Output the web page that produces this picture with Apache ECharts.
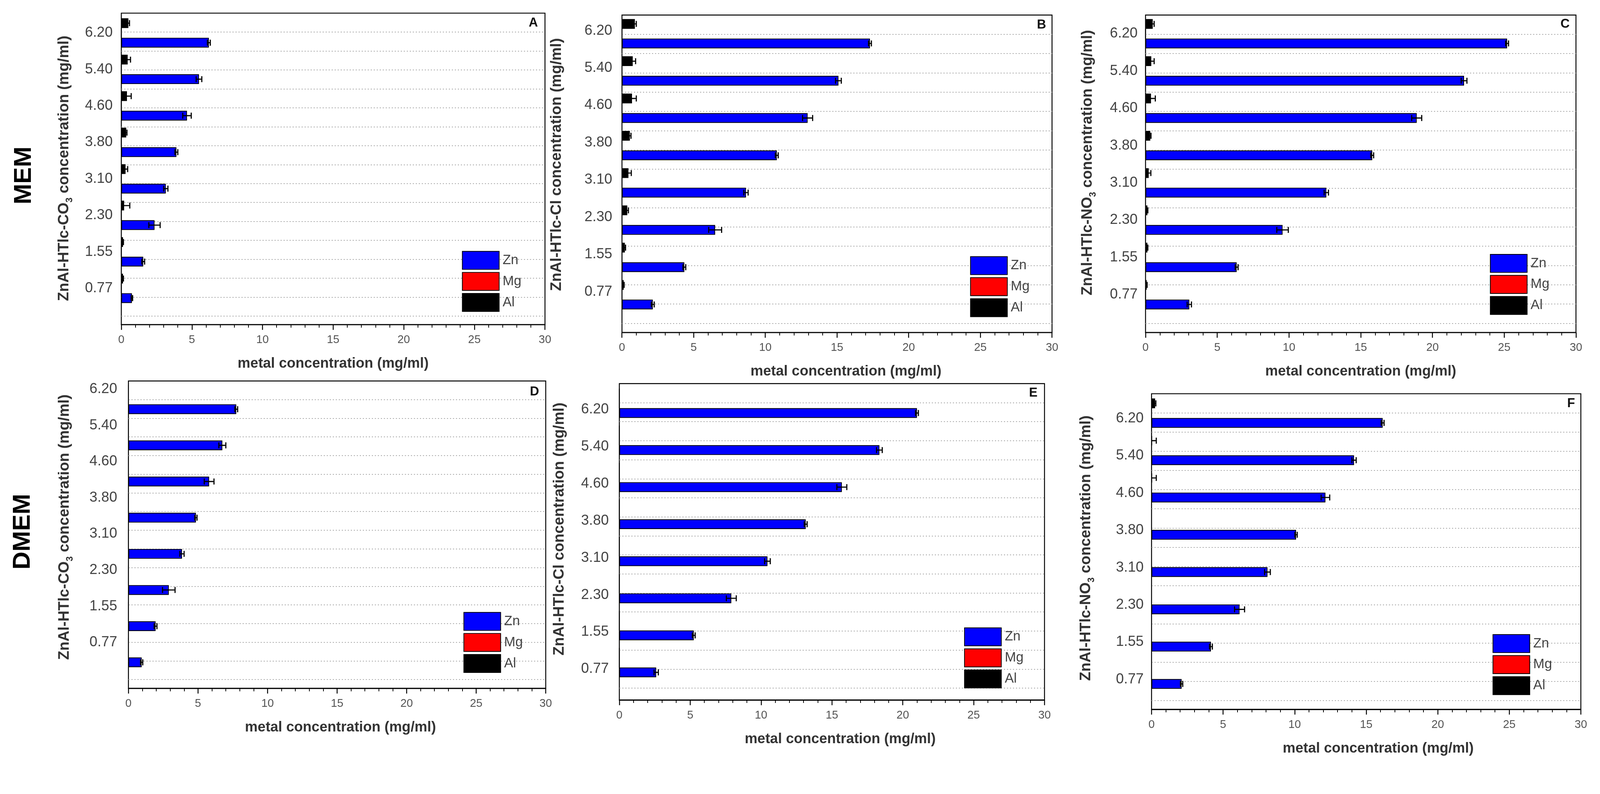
<!DOCTYPE html>
<html><head><meta charset="utf-8">
<script src="https://cdn.jsdelivr.net/npm/echarts@6/dist/echarts.min.js"></script>
<style>html,body{margin:0;padding:0;background:#fff;overflow:hidden}#c{position:absolute;left:0;top:0}</style>
</head><body><div id="c"></div>
<script>
// ---------- data ----------
const categories = ['0.77', '1.55', '2.30', '3.10', '3.80', '4.60', '5.40', '6.20'];
const legendNames = ['Zn', 'Mg', 'Al'];
const xMax = 30, xStep = 5;
const xTitle = 'metal concentration (mg/ml)';
const rowLabels = ['MEM', 'DMEM'];

// A: MEM, ZnAl-HTlc-CO3
const znA = [0.75, 1.55, 2.35, 3.15, 3.9, 4.65, 5.5, 6.2];
const znErrA = [0.05, 0.1, 0.4, 0.15, 0.1, 0.3, 0.2, 0.1];
const mgA = [0, 0, 0, 0, 0, 0, 0, 0];
const alA = [0.12, 0.12, 0.2, 0.3, 0.35, 0.4, 0.45, 0.5];
const alErrA = [0.03, 0.03, 0.4, 0.15, 0.05, 0.3, 0.2, 0.08];
// B: MEM, ZnAl-HTlc-Cl
const znB = [2.15, 4.35, 6.5, 8.65, 10.8, 12.95, 15.1, 17.3];
const znErrB = [0.1, 0.1, 0.45, 0.15, 0.1, 0.35, 0.2, 0.1];
const mgB = [0, 0, 0, 0, 0, 0, 0, 0];
const alB = [0.12, 0.2, 0.37, 0.45, 0.55, 0.7, 0.75, 0.9];
const alErrB = [0.03, 0.05, 0.08, 0.2, 0.08, 0.3, 0.2, 0.1];
// C: MEM, ZnAl-HTlc-NO3
const znC = [3.05, 6.35, 9.55, 12.6, 15.8, 18.9, 22.2, 25.2];
const znErrC = [0.15, 0.1, 0.4, 0.15, 0.1, 0.35, 0.2, 0.1];
const mgC = [0, 0, 0, 0, 0, 0, 0, 0];
const alC = [0.08, 0.13, 0.13, 0.22, 0.33, 0.38, 0.4, 0.5];
const alErrC = [0.03, 0.03, 0.03, 0.15, 0.05, 0.3, 0.2, 0.1];
// D: DMEM, ZnAl-HTlc-CO3
const znD = [0.95, 1.95, 2.9, 3.85, 4.85, 5.8, 6.75, 7.75];
const znErrD = [0.08, 0.1, 0.45, 0.15, 0.08, 0.35, 0.25, 0.1];
const mgD = [0, 0, 0, 0, 0, 0, 0, 0];
const alD = [0, 0, 0, 0, 0, 0, 0, 0];
const alErrD = [0, 0, 0, 0, 0, 0, 0, 0];
// E: DMEM, ZnAl-HTlc-Cl
const znE = [2.6, 5.25, 7.9, 10.45, 13.15, 15.7, 18.35, 21.0];
const znErrE = [0.15, 0.1, 0.35, 0.2, 0.1, 0.35, 0.2, 0.1];
const mgE = [0, 0, 0, 0, 0, 0, 0, 0];
const alE = [0, 0, 0, 0, 0, 0, 0, 0];
const alErrE = [0, 0, 0, 0, 0, 0, 0, 0];
// F: DMEM, ZnAl-HTlc-NO3
const znF = [2.1, 4.15, 6.15, 8.1, 10.1, 12.15, 14.15, 16.15];
const znErrF = [0.08, 0.1, 0.35, 0.2, 0.08, 0.3, 0.15, 0.1];
const mgF = [0, 0, 0, 0, 0, 0, 0, 0];
const alF = [0, 0, 0, 0, 0, 0.03, 0.03, 0.25];
const alErrF = [0, 0, 0, 0, 0, 0.3, 0.3, 0.05];

const yTitles = {
  A: ['ZnAl-HTlc-CO', '3'], B: ['ZnAl-HTlc-Cl', ''], C: ['ZnAl-HTlc-NO', '3'],
  D: ['ZnAl-HTlc-CO', '3'], E: ['ZnAl-HTlc-Cl', ''], F: ['ZnAl-HTlc-NO', '3']
};

// ---------- layout (positions / styles only, designed for 4260x2032, scaled to viewport) ----------
const W0 = 4260, H0 = 2032;
const vw = window.innerWidth || W0, vh = window.innerHeight || H0;
const S = Math.min(vw / W0, vh / H0);
const P = v => v * S;
const SANS = "'Liberation Sans', Arial, sans-serif";
const BAR_W = 26;
const layout = {
  A: {frame: [323, 35, 1451, 864], lineMax: 16.45, band: [39, 816], lm: 23, shift: 4, legend: [1230, 668], letter: [1420, 61], yt: [171, 448], xDx: 0},
  B: {frame: [1656, 40, 2801, 885], lineMax: 16.48, band: [40, 834], lm: 26, shift: -8, legend: [2583, 682], letter: [2773, 67], yt: [1482, 438], xDx: 24},
  C: {frame: [3050, 40, 4196, 885], lineMax: 16.48, band: [40, 834], lm: 21, shift: -3, legend: [3967, 676], letter: [4167, 64], yt: [2896, 433], xDx: 0},
  D: {frame: [342, 1014, 1453, 1832], lineMax: 16.47, band: [1015, 1785], lm: 30, shift: -27, legend: [1234, 1629], letter: [1423, 1043], yt: [172, 1403], xDx: 9},
  E: {frame: [1649, 1021, 2781, 1863], lineMax: 16.62, band: [1024, 1813], lm: 28, shift: 17, legend: [2567, 1670], letter: [2751, 1046], yt: [1490, 1408], xDx: 22},
  F: {frame: [3066, 1048, 4209, 1888], lineMax: 16.45, band: [1050, 1844], lm: 21, shift: 14, legend: [3974, 1688], letter: [4183, 1074], yt: [2892, 1459], xDx: 32}
};
const panels = [
  {id: 'A', zn: znA, znErr: znErrA, mg: mgA, al: alA, alErr: alErrA},
  {id: 'B', zn: znB, znErr: znErrB, mg: mgB, al: alB, alErr: alErrB},
  {id: 'C', zn: znC, znErr: znErrC, mg: mgC, al: alC, alErr: alErrC},
  {id: 'D', zn: znD, znErr: znErrD, mg: mgD, al: alD, alErr: alErrD},
  {id: 'E', zn: znE, znErr: znErrE, mg: mgE, al: alE, alErr: alErrE},
  {id: 'F', zn: znF, znErr: znErrF, mg: mgF, al: alF, alErr: alErrF}
];

const grids = [], xAxes = [], yAxes = [], series = [], legends = [], graphics = [];

function errSeries(idx, vals, errs, offsetPx) {
  return {
    type: 'custom', xAxisIndex: idx, yAxisIndex: idx, z: 5, silent: true, clip: true,
    data: vals.map((v, i) => [v, i, errs[i]]),
    renderItem: function (params, api) {
      const v = api.value(0), i = api.value(1), e = api.value(2);
      if (!e) return null;
      const c = api.coord([v, i]);
      const lo = api.coord([v - e, i]);
      const hi = api.coord([v + e, i]);
      const y = c[1] + offsetPx;
      const h = P(8);
      const st = {stroke: '#000', lineWidth: P(3)};
      return {type: 'group', children: [
        {type: 'line', shape: {x1: lo[0], y1: y, x2: hi[0], y2: y}, style: st},
        {type: 'line', shape: {x1: lo[0], y1: y - h, x2: lo[0], y2: y + h}, style: st},
        {type: 'line', shape: {x1: hi[0], y1: y - h, x2: hi[0], y2: y + h}, style: st}
      ]};
    }
  };
}

panels.forEach(p => {
  const L = layout[p.id];
  const [l, t, r, b] = L.frame;
  const g1 = grids.length;
  grids.push({left: P(l), top: P(t), width: P(r - l), height: P(b - t), show: true, borderColor: '#000', borderWidth: P(2.5), backgroundColor: 'transparent'});
  const g2 = grids.length;
  grids.push({left: P(l), top: P(L.band[0]), width: P(r - l), height: P(L.band[1] - L.band[0])});

  xAxes.push({
    gridIndex: g1, type: 'value', min: 0, max: xMax, interval: xStep,
    axisLine: {show: true, onZero: false, lineStyle: {color: '#000', width: P(2.5)}},
    axisTick: {show: true, length: P(14), lineStyle: {color: '#000', width: P(2.5)}},
    minorTick: {show: true, splitNumber: 5, length: P(8), lineStyle: {color: '#000', width: P(2)}},
    axisLabel: {fontSize: P(30), color: '#555', margin: P(26), fontFamily: SANS},
    splitLine: {show: false},
    name: xTitle, nameLocation: 'middle', nameGap: P(85),
    nameTextStyle: {fontSize: P(38), fontWeight: 'bold', color: '#333', fontFamily: SANS, padding: [0, 0, 0, P(2 * L.xDx)]}
  });
  xAxes.push({gridIndex: g2, type: 'value', min: 0, max: xMax, show: false});

  yAxes.push({
    gridIndex: g1, type: 'value', inverse: true, min: 0, max: L.lineMax, interval: 1,
    axisLine: {show: false}, axisTick: {show: false}, axisLabel: {show: false},
    splitLine: {show: true, showMinLine: false, showMaxLine: false, lineStyle: {color: '#a8a8a8', width: P(2), type: [P(3), P(5)]}}
  });
  const lab = {fontSize: P(38), color: '#444', margin: P(L.lm), fontFamily: SANS};
  if (Math.abs(L.shift) >= 6) {
    lab.verticalAlign = L.shift > 0 ? 'top' : 'bottom';
    lab.lineHeight = P(2 * Math.abs(L.shift));
  }
  yAxes.push({
    gridIndex: g2, type: 'category', data: categories,
    axisLine: {show: false}, axisTick: {show: false}, splitLine: {show: false},
    axisLabel: lab
  });

  [['Al', p.al, '#000000'], ['Mg', p.mg, '#ff0000'], ['Zn', p.zn, '#0000ff']].forEach(([name, data, color]) => {
    series.push({
      type: 'bar', name, xAxisIndex: g2, yAxisIndex: g2, data,
      barWidth: P(BAR_W), barGap: '0%', silent: true,
      itemStyle: {color, borderColor: '#000', borderWidth: P(2)}
    });
  });
  series.push(errSeries(g2, p.zn, p.znErr, P(BAR_W)));
  series.push(errSeries(g2, p.al, p.alErr, -P(BAR_W)));

  legends.push({
    data: legendNames, orient: 'vertical', left: P(L.legend[0]), top: P(L.legend[1]),
    itemWidth: P(98), itemHeight: P(48), itemGap: P(6), icon: 'rect', padding: 0, selectedMode: false,
    itemStyle: {borderColor: '#000', borderWidth: P(2)},
    textStyle: {fontSize: P(36), color: '#444', fontFamily: SANS, padding: [0, 0, 0, P(4)]}
  });

  graphics.push({
    type: 'text', x: P(L.letter[0]), y: P(L.letter[1]), z: 10,
    style: {text: p.id, fontSize: P(34), fontWeight: 'bold', fill: '#111', fontFamily: SANS, align: 'center', verticalAlign: 'middle'}
  });
  const yt = yTitles[p.id];
  const txt = yt[1] ? '{a|' + yt[0] + '}{s|' + yt[1] + '}{a| concentration (mg/ml)}' : '{a|' + yt[0] + ' concentration (mg/ml)}';
  graphics.push({
    type: 'text', x: P(L.yt[0]), y: P(L.yt[1]), rotation: Math.PI / 2, z: 10,
    style: {
      text: txt, align: 'center', verticalAlign: 'middle',
      rich: {
        a: {fontSize: P(40), fontWeight: 'bold', fill: '#333', fontFamily: SANS, lineHeight: P(54), verticalAlign: 'middle'},
        s: {fontSize: P(24), fontWeight: 'bold', fill: '#333', fontFamily: SANS, lineHeight: P(54), verticalAlign: 'bottom'}
      }
    }
  });
});

graphics.push({type: 'text', x: P(64), y: P(467), rotation: Math.PI / 2, style: {text: rowLabels[0], fontSize: P(66), fontWeight: 'bold', fill: '#000', fontFamily: SANS, align: 'center', verticalAlign: 'middle'}});
graphics.push({type: 'text', x: P(61), y: P(1415), rotation: Math.PI / 2, style: {text: rowLabels[1], fontSize: P(66), fontWeight: 'bold', fill: '#000', fontFamily: SANS, align: 'center', verticalAlign: 'middle'}});

const el = document.getElementById('c');
el.style.width = P(W0) + 'px';
el.style.height = P(H0) + 'px';
const chart = echarts.init(el, null, {renderer: 'canvas'});
chart.setOption({
  animation: false, backgroundColor: '#fff',
  grid: grids, xAxis: xAxes, yAxis: yAxes, series, legend: legends, graphic: graphics
});
</script></body></html>
